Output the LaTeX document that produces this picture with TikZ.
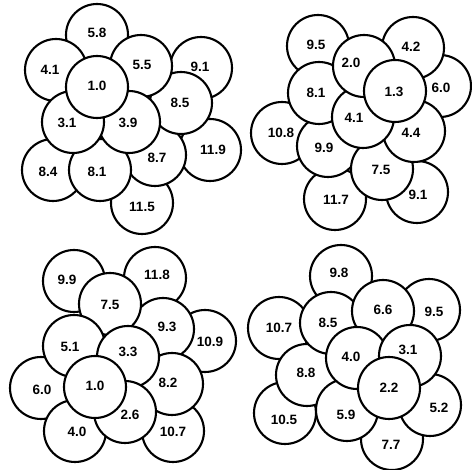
\documentclass[tikz,border=0pt]{standalone}
\usepackage{fontspec}
\setmainfont{Liberation Sans}
\begin{document}
\begin{tikzpicture}[x=1pt, y=-1pt,
  ball/.style={line width=2.1pt, fill=white},
  num/.style={font=\fontsize{13.5}{15}\selectfont\bfseries, inner sep=0pt}]
  \useasboundingbox (0,0) rectangle (472,470);
  % upper left cluster
  \draw[ball] (210,150) circle (31);
  \node[num] (a119) at (213,150) {11.9};
  \draw[ball] (142,203) circle (31);
  \node[num] (a115) at (142,207) {11.5};
  \draw[ball] (201,68) circle (31);
  \node[num] (a91) at (200,67) {9.1};
  \draw[ball] (155,155) circle (31);
  \node[num] (a87) at (157,158) {8.7};
  \draw[ball] (181,103) circle (31);
  \node[num] (a85) at (180,103) {8.5};
  \draw[ball] (53,170) circle (31);
  \node[num] (a84) at (48,172) {8.4};
  \draw[ball] (100,170) circle (31);
  \node[num] (a81) at (97,172) {8.1};
  \draw[ball] (97,35) circle (31);
  \node[num] (a58) at (97,33) {5.8};
  \draw[ball] (141,66) circle (31);
  \node[num] (a55) at (142,65) {5.5};
  \draw[ball] (56,70) circle (31);
  \node[num] (a41) at (50,70) {4.1};
  \draw[ball] (129,122) circle (31);
  \node[num] (a39) at (128,123) {3.9};
  \draw[ball] (73,122) circle (31);
  \node[num] (a31) at (67,123) {3.1};
  \draw[ball] (97,87) circle (31);
  \node[num] (a10) at (97,86) {1.0};
  % upper right cluster
  \draw[ball] (335,199) circle (31);
  \node[num] (b117) at (336,200) {11.7};
  \draw[ball] (282,133) circle (31);
  \node[num] (b108) at (281,133) {10.8};
  \draw[ball] (328,146) circle (31);
  \node[num] (b99) at (324,148) {9.9};
  \draw[ball] (318,46) circle (31);
  \node[num] (b95) at (316,45) {9.5};
  \draw[ball] (417,192) circle (31);
  \node[num] (b91) at (418,195) {9.1};
  \draw[ball] (319,93) circle (31);
  \node[num] (b81) at (316,93) {8.1};
  \draw[ball] (382,169) circle (31);
  \node[num] (b75) at (381,170) {7.5};
  \draw[ball] (440,86) circle (31);
  \node[num] (b60) at (441,88) {6.0};
  \draw[ball] (414,131) circle (31);
  \node[num] (b44) at (411,133) {4.4};
  \draw[ball] (413,48) circle (31);
  \node[num] (b42) at (411,47) {4.2};
  \draw[ball] (363,117) circle (31);
  \node[num] (b41) at (354,118) {4.1};
  \draw[ball] (364,66) circle (31);
  \node[num] (b20) at (351,63) {2.0};
  \draw[ball] (395,91) circle (31);
  \node[num] (b13) at (394,92) {1.3};
  % lower left cluster
  \draw[ball] (155,278) circle (31);
  \node[num] (c118) at (157,275) {11.8};
  \draw[ball] (205,341) circle (31);
  \node[num] (c109) at (210,342) {10.9};
  \draw[ball] (173,431) circle (31);
  \node[num] (c107) at (173,432) {10.7};
  \draw[ball] (74,281) circle (31);
  \node[num] (c99) at (67,280) {9.9};
  \draw[ball] (163,329) circle (31);
  \node[num] (c93) at (167,327) {9.3};
  \draw[ball] (172,384) circle (31);
  \node[num] (c82) at (168,383) {8.2};
  \draw[ball] (110,304) circle (31);
  \node[num] (c75) at (110,305) {7.5};
  \draw[ball] (41,388) circle (31);
  \node[num] (c60) at (42,390) {6.0};
  \draw[ball] (74,346) circle (31);
  \node[num] (c51) at (70,347) {5.1};
  \draw[ball] (75,431) circle (31);
  \node[num] (c40) at (77,432) {4.0};
  \draw[ball] (128,357) circle (31);
  \node[num] (c33) at (128,352) {3.3};
  \draw[ball] (125,412) circle (31);
  \node[num] (c26) at (130,415) {2.6};
  \draw[ball] (95,387) circle (31);
  \node[num] (c10) at (95,386) {1.0};
  % lower right cluster
  \draw[ball] (279,328) circle (31);
  \node[num] (d107) at (279,328) {10.7};
  \draw[ball] (285,413) circle (31);
  \node[num] (d105) at (284,420) {10.5};
  \draw[ball] (341,276) circle (31);
  \node[num] (d98) at (339,273) {9.8};
  \draw[ball] (429,310) circle (31);
  \node[num] (d95) at (434,312) {9.5};
  \draw[ball] (307,375) circle (31);
  \node[num] (d88) at (306,373) {8.8};
  \draw[ball] (331,323) circle (31);
  \node[num] (d85) at (328,323) {8.5};
  \draw[ball] (392,439) circle (31);
  \node[num] (d77) at (391,445) {7.7};
  \draw[ball] (383,311) circle (31);
  \node[num] (d66) at (383,310) {6.6};
  \draw[ball] (347,410) circle (31);
  \node[num] (d59) at (346,415) {5.9};
  \draw[ball] (430,405) circle (31);
  \node[num] (d52) at (439,408) {5.2};
  \draw[ball] (357,358) circle (31);
  \node[num] (d40) at (351,357) {4.0};
  \draw[ball] (410,356) circle (31);
  \node[num] (d31) at (408,350) {3.1};
  \draw[ball] (389,388) circle (31);
  \node[num] (d22) at (389,388) {2.2};
\end{tikzpicture}
\end{document}
